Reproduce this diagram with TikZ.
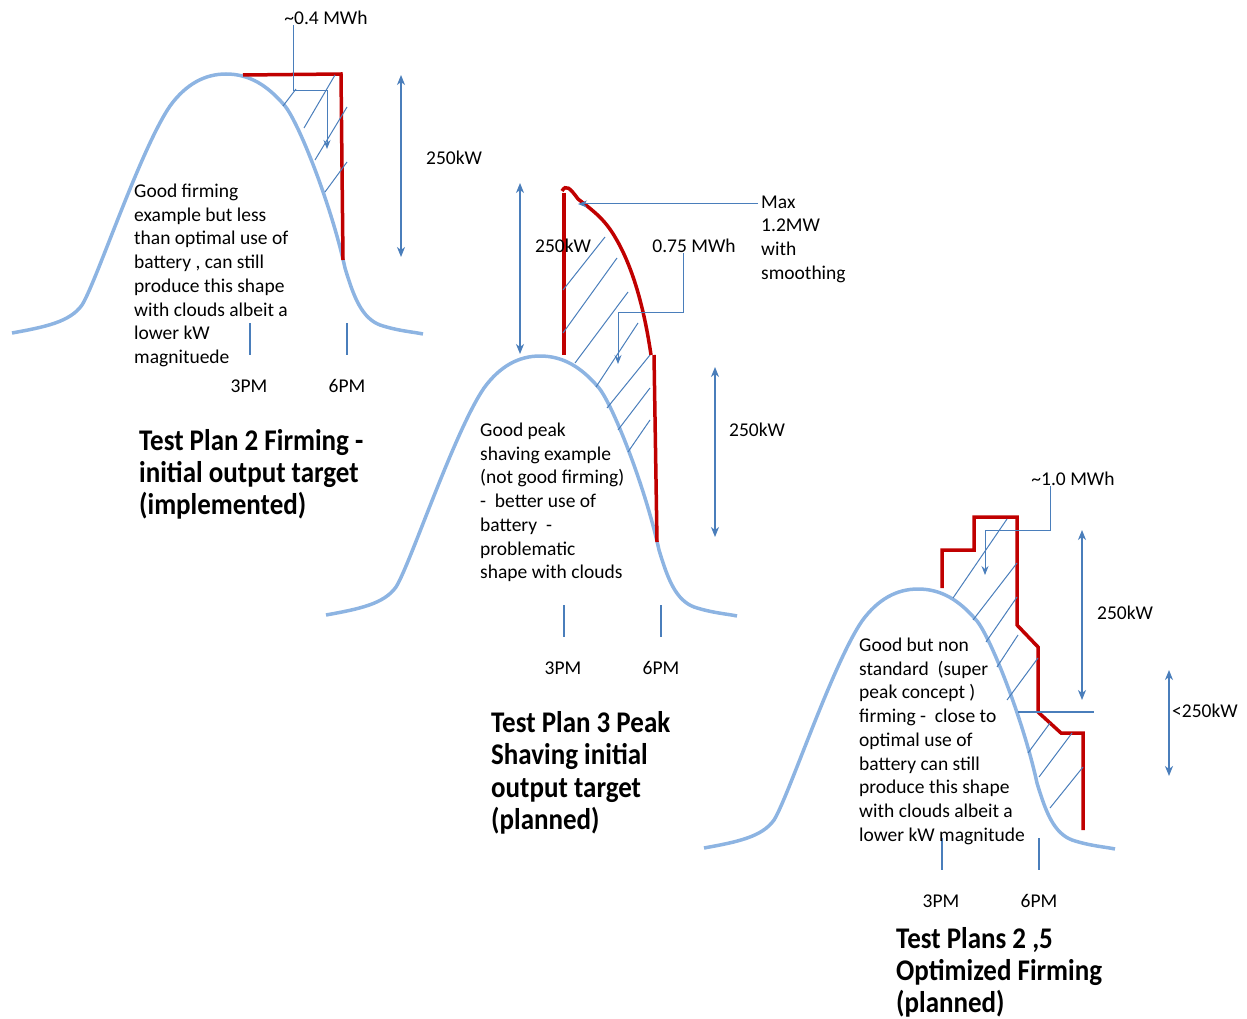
\documentclass[tikz,border=0pt]{standalone}
\usepackage{fontspec}
\setmainfont{Carlito}
\newfontfamily\ttlfont[FakeStretch=0.9]{Carlito}
\usetikzlibrary{arrows.meta}
\definecolor{pvblue}{RGB}{141,180,226}
\definecolor{lnblue}{RGB}{74,126,187}
\definecolor{batred}{RGB}{192,0,0}

\begin{document}
\begin{tikzpicture}[x=1pt,y=-1pt]

\tikzstyle{cv} = [draw=pvblue, line width=3.5pt]
\tikzstyle{rd} = [draw=batred, line width=3.5pt]
\tikzstyle{hl} = [draw=lnblue, line width=1pt]
\tikzstyle{tk} = [draw=lnblue, line width=1.8pt]
\tikzstyle{dm} = [draw=lnblue, line width=1.3pt, {Stealth[length=10pt,width=8pt,inset=3pt]}-{Stealth[length=10pt,width=8pt,inset=3pt]}]
\tikzstyle{ld} = [draw=lnblue, line width=1pt, -{Stealth[length=9pt,width=7pt,inset=3pt]}]
\tikzstyle{tx} = [font=\fontsize{19.5}{23.7}\selectfont, align=left, inner sep=0pt, anchor=base west]
\tikzstyle{tt} = [font=\ttlfont\bfseries\fontsize{30}{32.3}\selectfont, align=left, inner sep=0pt, anchor=base west]

\useasboundingbox (0,0) rectangle (1247,1019);

\foreach \sx/\sy/\i in {0/0/1,314/282/2,692/515/3}{
  \begin{scope}[shift={(\sx,\sy)}]
    \draw[cv] (12,333) .. controls (45,327) and (70,322) .. (82,305)
      .. controls (96,283) and (140,150) .. (170,106)
      .. controls (186,84) and (205,74) .. (226,74)
      .. controls (250,74) and (268,86) .. (285,106)
      .. controls (300,125) and (332,208) .. (345,268)
      .. controls (354,298) and (362,318) .. (380,325)
      .. controls (398,331) and (414,332) .. (423,334);
    \draw[tk] (250,323) -- (250,355) (347,323) -- (347,355);
    \node[tx, anchor=center] (tp\i) at (249,386) {3PM};
    \node[tx, anchor=center] (sp\i) at (347,386) {6PM};
  \end{scope}
}

\draw[rd] (243,75) -- (341,74) -- (343,260);
\draw[hl] (283,106) -- (296,89) (304,128) -- (335,75) (315,160) -- (347,107) (325,192) -- (347,162);
\node[tx, anchor=center] (mwa) at (326,18) {\textasciitilde 0.4 MWh};
\coordinate (mwa1) at (293,91);
\coordinate (mwa2) at (327,91);
\coordinate (mwa3) at (327,149);
\draw[ld] (mwa.south -| mwa1) -- (mwa1) -- (mwa2) -- (mwa3);
\coordinate (d1a) at (401,75);
\coordinate (d1b) at (401,257);
\draw[dm] (d1a) -- (d1b);
\node[tx, anchor=west] (kw1) at (426,158) {250kW};
\node[tx] (nt1) at (134,363.4) {Good firming\\example but less\\than optimal use of\\battery , can still\\produce this shape\\with clouds albeit a\\lower kW\\magnituede};
\node[tt] (tl1) at (139,514.6) {Test Plan 2 Firming -\\initial output target\\(implemented)};

\draw[rd] (564,193) -- (564,355);
\draw[rd] (562,191) .. controls (566,184) and (570,188) .. (578,199)
  .. controls (595,212) and (605,220) .. (615,237)
  .. controls (630,262) and (643,300) .. (651,355);
\draw[rd] (654,355) -- (657,542);
\draw[hl] (563,290) -- (605,237) (563,333) -- (617,258) (575,363) -- (628,292) (596,387) -- (638,323)
  (607,408) -- (650,355) (618,430) -- (650,388) (628,452) -- (650,420);
\node[tx] (mx) at (761,279.1) {Max\\1.2MW\\with\\smoothing};
\coordinate (mx1) at (758,204);
\coordinate (mx2) at (578,204);
\draw[ld] (mx1) -- (mx2);
\node[tx, anchor=center] (mwb) at (694,246) {0.75 MWh};
\coordinate (mwb1) at (683,312);
\coordinate (mwb2) at (618,312);
\coordinate (mwb3) at (618,364);
\draw[ld] (mwb.south -| mwb1) -- (mwb1) -- (mwb2) -- (mwb3);
\coordinate (d2a) at (520,183);
\coordinate (d2b) at (520,354);
\draw[dm] (d2a) -- (d2b);
\node[tx, anchor=west] (kw2) at (535,246) {250kW};
\coordinate (d3a) at (715,367);
\coordinate (d3b) at (715,537);
\draw[dm] (d3a) -- (d3b);
\node[tx, anchor=west] (kw3) at (729,430) {250kW};
\node[tx] (nt2) at (480,578.7) {Good peak\\shaving example\\(not good firming)\\-~ better use of\\battery~ -\\problematic\\shape with clouds};
\node[tt] (tl2) at (491,829.5) {Test Plan 3 Peak\\Shaving initial\\output target\\(planned)};

\draw[rd] (942,588) -- (942,550) -- (974,550) -- (974,517) -- (1017,517) -- (1017,625) -- (1038,647)
  -- (1038,712) -- (1061,733) -- (1083,733) -- (1083,830);
\draw[hl] (953,598) -- (1007,519) (973,620) -- (1017,563) (986,642) -- (1017,597) (997,667) -- (1018,635)
  (1007,700) -- (1038,658) (1028,753) -- (1050,723) (1039,777) -- (1072,733) (1050,808) -- (1083,767);
\draw[hl, line width=1.4pt] (1018,712) -- (1094,712);
\node[tx, anchor=center] (mwc) at (1073,479) {\textasciitilde 1.0 MWh};
\coordinate (mwc1) at (1050,530);
\coordinate (mwc2) at (985,530);
\coordinate (mwc3) at (985,575);
\draw[ld] (mwc.south -| mwc1) -- (mwc1) -- (mwc2) -- (mwc3);
\coordinate (d4a) at (1082,530);
\coordinate (d4b) at (1082,700);
\draw[dm] (d4a) -- (d4b);
\node[tx, anchor=west] (kw4) at (1097,613) {250kW};
\coordinate (d5a) at (1169,670);
\coordinate (d5b) at (1169,776);
\draw[dm] (d5a) -- (d5b);
\node[tx, anchor=west] (kw5) at (1172,711) {<250kW};
\node[tx] (nt3) at (859,841.1) {Good but non\\standard~ (super\\peak concept )\\firming -~ close to\\optimal use of\\battery can still\\produce this shape\\with clouds albeit a\\lower kW magnitude};
\node[tt] (tl3) at (896,1012.8) {Test Plans 2 ,5\\Optimized Firming\\(planned)};

\end{tikzpicture}
\end{document}
